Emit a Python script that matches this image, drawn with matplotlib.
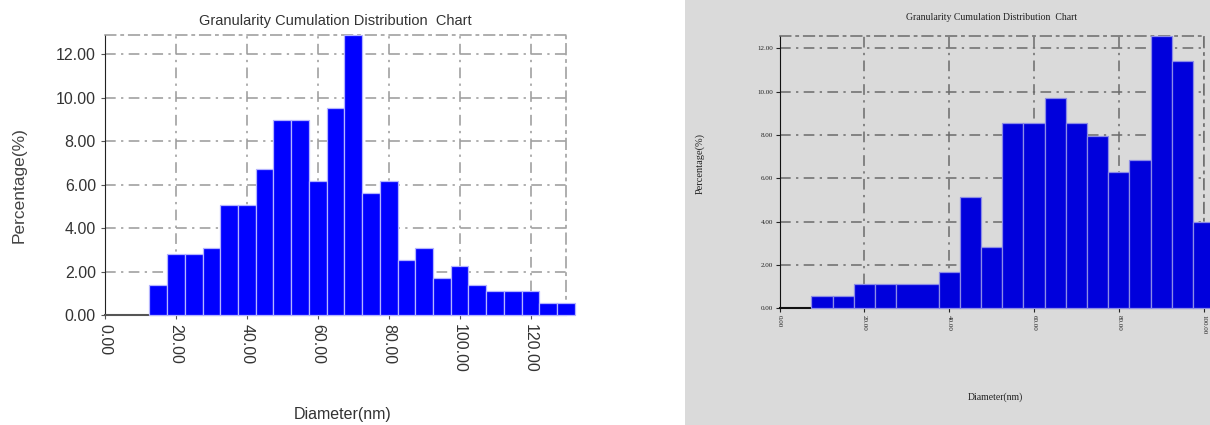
import matplotlib
matplotlib.use("Agg")
import numpy as np
import matplotlib.pyplot as plt
from matplotlib.patches import Rectangle
from matplotlib.ticker import FormatStrFormatter

# ===== data: left chart =====
LEFT_CENTERS = [15, 20, 25, 30, 35, 40, 45, 50, 55, 60, 65, 70,
                75, 80, 85, 90, 95, 100, 105, 110, 115, 120, 125, 130]
LEFT_PCT = [1.38, 2.79, 2.79, 3.08, 5.05, 5.05, 6.71, 8.96, 8.96, 6.15, 9.51, 12.89,
            5.60, 6.15, 2.55, 3.08, 1.69, 2.24, 1.38, 1.12, 1.12, 1.12, 0.57, 0.57]
LEFT_XTICKS = [0, 20, 40, 60, 80, 100, 120]
LEFT_YTICKS = [0, 2, 4, 6, 8, 10, 12]

# ===== data: right chart =====
RIGHT_EDGES = [7.5, 12.5, 17.5, 22.5, 27.5, 37.5, 42.5, 47.5, 52.5, 57.5,
               62.5, 67.5, 72.5, 77.5, 82.5, 87.5, 92.5, 97.5, 102.5]
RIGHT_PCT = [0.55, 0.55, 1.14, 1.14, 1.14, 1.68, 5.13, 2.85, 8.57,
             8.57, 9.69, 8.57, 7.96, 6.30, 6.84, 12.59, 11.41, 3.99]
RIGHT_XTICKS = [0, 20, 40, 60, 80, 100]
RIGHT_YTICKS = [0, 2, 4, 6, 8, 10, 12]

TITLE = "Granularity Cumulation Distribution  Chart"
SANS = ["Liberation Sans", "DejaVu Sans"]
SERIF = ["Liberation Serif", "DejaVu Serif"]
DASHDOT = (0, (7, 3.5, 1.5, 3.5))
GRAY_BG = "#dadada"
W, H = 1210, 425

fig = plt.figure(figsize=(12.1, 4.25), dpi=100)
fig.patches.append(Rectangle((685 / W, 0), 1 - 685 / W, 1, transform=fig.transFigure,
                             facecolor=GRAY_BG, edgecolor="none", zorder=-5))

# ===== left chart =====
ax1 = fig.add_axes([105 / W, 1 - 315 / H, (566 - 105) / W, (315 - 35) / H])
ax1.bar(LEFT_CENTERS, LEFT_PCT, width=5, color="#0000ff",
        edgecolor="#b4b4ff", linewidth=0.9, clip_on=False, zorder=3)
ax1.set_xlim(0, 130)
ax1.set_ylim(0, 12.89)
ax1.set_xticks(LEFT_XTICKS)
ax1.set_yticks(LEFT_YTICKS)
ax1.xaxis.set_major_formatter(FormatStrFormatter("%.2f"))
ax1.yaxis.set_major_formatter(FormatStrFormatter("%.2f"))
ax1.grid(True, color="#999999", linestyle=DASHDOT, linewidth=1.1, zorder=1)
ax1.set_axisbelow(True)
for s in ["top", "right"]:
    ax1.spines[s].set_color("#999999")
    ax1.spines[s].set_linestyle(DASHDOT)
    ax1.spines[s].set_linewidth(1.1)
ax1.spines["left"].set_color("#222222")
ax1.spines["bottom"].set_color("#555555")
ax1.spines["bottom"].set_linewidth(1.5)
ax1.tick_params(axis="both", length=3, color="#555555", labelcolor="#333333")
for lab in ax1.get_yticklabels():
    lab.set_family(SANS)
    lab.set_fontsize(11.5)
for lab in ax1.get_xticklabels():
    lab.set_family(SANS)
    lab.set_fontsize(11.5)
    lab.set_rotation(-90)
ax1.set_title(TITLE, family=SANS, fontsize=10.5, color="#333333", pad=7)
fig.text(19 / W, 1 - 185 / H, "Percentage(%)", family=SANS, fontsize=12.5,
         color="#444444", rotation=90, ha="center", va="center")
fig.text(343 / W, 1 - 414 / H, "Diameter(nm)", family=SANS, fontsize=11.5,
         color="#333333", ha="center", va="center")

# ===== right chart =====
ax2 = fig.add_axes([779.7 / W, 1 - 308.4 / H, (1203.6 - 779.7) / W, (308.4 - 35.5) / H])
ax2.set_facecolor(GRAY_BG)
ax2.bar(RIGHT_EDGES[:-1], RIGHT_PCT, width=np.diff(RIGHT_EDGES), align="edge",
        color="#0000dc", edgecolor="#8c8ce6", linewidth=0.9, clip_on=False, zorder=3)
ax2.set_xlim(0, 100)
ax2.set_ylim(0, 12.59)
ax2.set_xticks(RIGHT_XTICKS)
ax2.set_yticks(RIGHT_YTICKS)
ax2.xaxis.set_major_formatter(FormatStrFormatter("%.2f"))
ax2.yaxis.set_major_formatter(FormatStrFormatter("%.2f"))
ax2.grid(True, color="#6a6a6a", linestyle=DASHDOT, linewidth=1.1, zorder=1)
ax2.set_axisbelow(True)
for s in ["top", "right"]:
    ax2.spines[s].set_color("#6a6a6a")
    ax2.spines[s].set_linestyle(DASHDOT)
    ax2.spines[s].set_linewidth(1.1)
ax2.spines["left"].set_color("#111111")
ax2.spines["bottom"].set_color("#111111")
ax2.spines["bottom"].set_linewidth(1.5)
ax2.tick_params(axis="both", length=3, color="#222222", labelcolor="#222222", pad=2)
for lab in ax2.get_yticklabels():
    lab.set_family(SERIF)
    lab.set_fontsize(5)
for lab in ax2.get_xticklabels():
    lab.set_family(SERIF)
    lab.set_fontsize(5)
    lab.set_rotation(-90)
ax2.set_title(TITLE, family=SERIF, fontsize=7, color="#222222", pad=11)
fig.text(700 / W, 1 - 163 / H, "Percentage(%)", family=SERIF, fontsize=7.5,
         color="#222222", rotation=90, ha="center", va="center")
fig.text(995 / W, 1 - 397 / H, "Diameter(nm)", family=SERIF, fontsize=7,
         color="#222222", ha="center", va="center")

fig.savefig("out.png", dpi=100)
